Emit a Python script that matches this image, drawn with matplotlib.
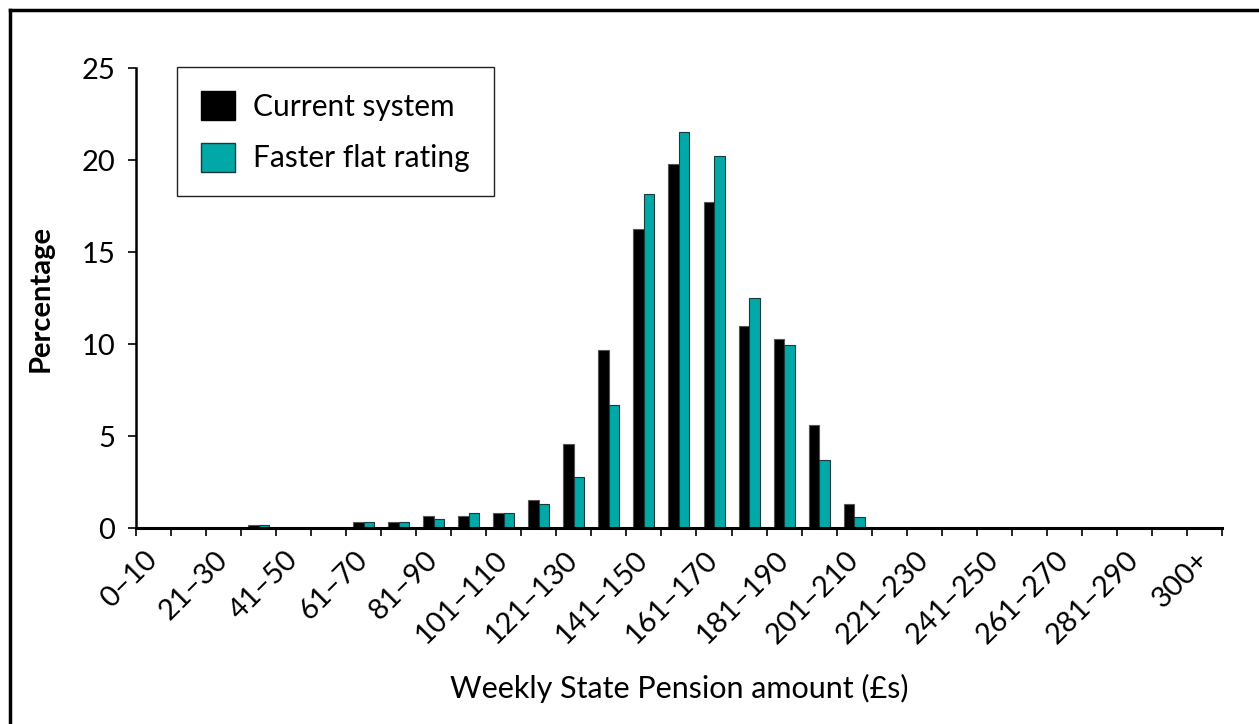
import matplotlib.pyplot as plt
import numpy as np
from matplotlib.patches import Patch

plt.rcParams['font.family'] = ['Lato', 'DejaVu Sans']

# weekly amount bands, 10 pounds wide, last one open ended
bands = ['%d–%d' % (a * 10 + (0 if a == 0 else 1), a * 10 + 10) for a in range(30)] + ['300+']

current = [0, 0, 0, 0.15, 0, 0, 0.3, 0.3, 0.63, 0.63,
           0.8, 1.5, 4.57, 9.69, 16.27, 19.8, 17.73, 11.0, 10.25, 5.58,
           1.3, 0, 0, 0, 0, 0, 0, 0, 0, 0, 0]
faster = [0, 0, 0, 0.15, 0, 0, 0.3, 0.3, 0.47, 0.8,
          0.8, 1.3, 2.79, 6.68, 18.13, 21.55, 20.2, 12.48, 9.94, 3.71,
          0.6, 0, 0, 0, 0, 0, 0, 0, 0, 0, 0]

black = '#000000'
teal = '#00a9a8'

fig = plt.figure(figsize=(12.59, 7.24), dpi=100)
ax = fig.add_axes([0.108, 0.2707, 0.8626, 0.6353])

x = np.arange(len(bands))
w = 0.3
ax.bar(x - w / 2, current, width=w, color=black, edgecolor='#555555', linewidth=0.8)
ax.bar(x + w / 2, faster, width=w, color=teal, edgecolor='#1a3a3a', linewidth=0.8)

ax.set_xlim(-0.5, len(bands) - 0.5)
ax.set_ylim(0, 25)
ax.set_yticks(np.arange(0, 26, 5))
ax.tick_params(axis='y', labelsize=21, length=6, width=1.2, direction='out', pad=9)

# ticks between bands, labels on every other band
ax.set_xticks(np.arange(-0.5, len(bands)), minor=False)
ax.set_xticklabels([])
ax.set_xticks(x[::2], minor=True)
ax.set_xticklabels(bands[::2], minor=True, rotation=45, ha='right', va='center',
                   rotation_mode='anchor', fontsize=21)
ax.tick_params(axis='x', which='major', length=6, width=1.2)
ax.tick_params(axis='x', which='minor', length=0, pad=20)

for s in ['top', 'right']:
    ax.spines[s].set_visible(False)
ax.spines['left'].set_linewidth(1.8)
ax.spines['bottom'].set_linewidth(2.2)

ax.set_ylabel('Percentage', fontsize=21, fontweight='bold', labelpad=20)
ax.set_xlabel('Weekly State Pension amount (£s)', fontsize=22, labelpad=18)

handles = [Patch(facecolor=black, edgecolor=black), Patch(facecolor=teal, edgecolor='#1a3a3a')]
leg = ax.legend(handles, ['Current system', 'Faster flat rating'], loc='upper left',
                bbox_to_anchor=(0.0378, 1.002), borderaxespad=0, fontsize=21.5,
                fancybox=False, framealpha=1, edgecolor='#222222',
                handlelength=1.15, handleheight=1.12, borderpad=0.8,
                labelspacing=0.74, handletextpad=0.6)
leg.get_frame().set_linewidth(1.0)

# outer frame around the figure (left and top visible)
fig.add_artist(plt.Line2D([0.008, 0.008], [0, 0.986], color='black', linewidth=2.5,
                          transform=fig.transFigure))
fig.add_artist(plt.Line2D([0.008, 1.0], [0.986, 0.986], color='black', linewidth=2.5,
                          transform=fig.transFigure))

plt.savefig('out.png', dpi=100)
